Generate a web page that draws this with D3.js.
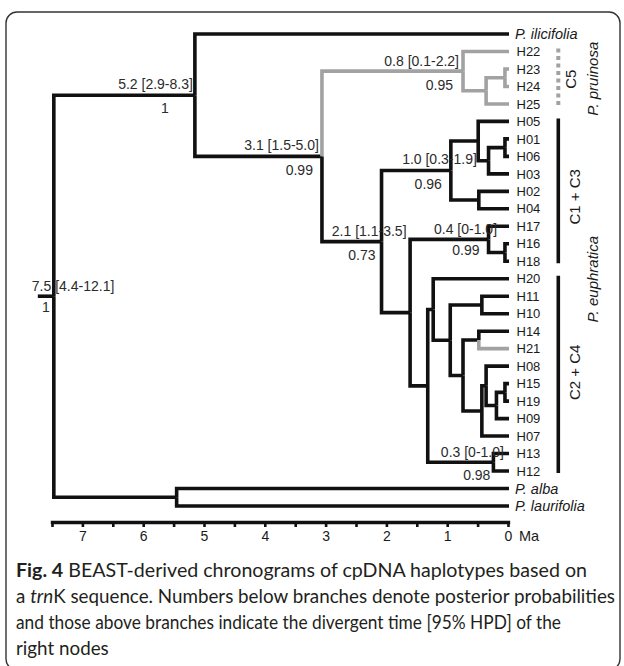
<!DOCTYPE html>
<html>
<head>
<meta charset="utf-8">
<script src="https://cdnjs.cloudflare.com/ajax/libs/d3/7.8.5/d3.min.js"></script>
<style>
  body { margin: 0; background: #fff; }
  svg { display: block; font-family: "Liberation Sans", Arial, sans-serif; }
</style>
</head>
<body>
<div id="chart"></div>
<script>
// tips, top to bottom
var tips = ["P. ilicifolia", "H22", "H23", "H24", "H25", "H05", "H01", "H06", "H03", "H02", "H04",
  "H17", "H16", "H18", "H20", "H11", "H10", "H14", "H21", "H08", "H15", "H19", "H09", "H07",
  "H13", "H12", "P. alba", "P. laurifolia"];
var tipParent = ["A", "C5", "c5c", "c5c", "c5b", "P1", "R1", "R1", "Q1", "P2", "P2",
  "N04", "S", "S", "F", "T", "T", "U", "U", "J", "V", "V", "K", "I",
  "N03", "N03", "AL", "AL"];
var speciesTips = ["P. ilicifolia", "P. alba", "P. laurifolia"];

// internal nodes: id, parent, age (Ma)
var nodeIds     = ["root", "A", "AL", "B", "C5", "c5b", "c5c", "N21", "N10", "P1", "Q1", "R1", "P2",
  "D", "N04", "S", "E", "F", "G", "T", "Hn", "U", "I", "J", "K", "V", "N03"];
var nodeParents = ["", "root", "root", "A", "B", "C5", "c5b", "B", "N21", "N10", "P1", "Q1", "N10",
  "N21", "D", "N04", "D", "E", "F", "G", "G", "Hn", "Hn", "I", "J", "K", "E"];
var nodeAges    = [7.47, 5.15, 5.45, 3.06, 0.74, 0.36, 0.05, 2.08, 0.94, 0.49, 0.32, 0.05, 0.48,
  1.61, 0.32, 0.05, 1.32, 1.23, 0.95, 0.43, 0.74, 0.48, 0.43, 0.36, 0.19, 0.05, 0.24];

// divergence time [95% HPD] and posterior
var labelNodes = ["root", "A", "B", "C5", "N10", "N21", "N04", "N03"];
var timeLabels = ["7.5 [4.4-12.1]", "5.2 [2.9-8.3]", "3.1 [1.5-5.0]", "0.8 [0.1-2.2]",
  "1.0 [0.3-1.9]", "2.1 [1.1-3.5]", "0.4 [0-1.0]", "0.3 [0-1.0]"];
var posteriors = ["1", "1", "0.99", "0.95", "0.96", "0.73", "0.99", "0.98"];

var greyClades = ["C5", "H21"];

var cladeNames = ["C5", "C1 + C3", "C2 + C4"];
var cladeFrom  = ["H22", "H05", "H20"];
var cladeTo    = ["H25", "H18", "H12"];
var speciesGroups = ["P. pruinosa", "P. euphratica"];
var groupFrom = ["H22", "H05"];
var groupTo   = ["H25", "H12"];

var axisTicks = d3.range(0, 7.51, 0.5);

// label placement relative to node (layout only)
var labelPos = {
  root: { tx: -22, ty: -5, ta: "start", px: -8, py: 16, pa: "middle" },
  A:    { tx: -2,  ty: -6, ta: "end", px: -26, py: 18, pa: "end" },
  B:    { tx: -3,  ty: -6.5, ta: "end", px: -9, py: 18.5, pa: "end" },
  C5:   { tx: -4,  ty: -5, ta: "end", px: -10, py: 19, pa: "end" },
  N10:  { tx: 26,  ty: -7, ta: "end", px: -9, py: 18, pa: "end" },
  N21:  { tx: 25,  ty: -6, ta: "end", px: -6, py: 18, pa: "end" },
  N04:  { tx: 8.5, ty: -5.5, ta: "end", px: -9, py: 15.5, pa: "end" },
  N03:  { tx: 10.5, ty: -5.5, ta: "end", px: -3, py: 18, pa: "end" }
};
var cladeTextShift = [2, 6, -2];
var groupTextShift = [1, -17];

var width = 624, height = 666;
var svg = d3.select("#chart").append("svg")
  .attr("width", width)
  .attr("height", height);

svg.append("rect")
  .attr("x", 6).attr("y", 12)
  .attr("width", 614).attr("height", 658)
  .attr("rx", 11)
  .attr("fill", "none")
  .attr("stroke", "#333")
  .attr("stroke-width", 1.4);

var x = d3.scaleLinear().domain([7.5, 0]).range([52, 508]);
var y = d3.scalePoint().domain(tips).range([34, 506]);

var rows = nodeIds.map(function(id, i) {
  return { id: id, parent: nodeParents[i], age: nodeAges[i] };
}).concat(tips.map(function(t, i) {
  return { id: t, parent: tipParent[i], age: 0 };
}));

var root = d3.stratify()
  .id(function(d) { return d.id; })
  .parentId(function(d) { return d.parent; })(rows);

root.eachAfter(function(n) {
  n.px = x(n.data.age);
  if (n.children) {
    var ys = n.children.map(function(c) { return c.py; });
    n.py = (d3.min(ys) + d3.max(ys)) / 2;
  } else {
    n.py = y(n.id);
  }
});

function isGrey(n) {
  return n.ancestors().some(function(a) { return greyClades.indexOf(a.id) >= 0; });
}

var BLACK = "#111", GREY = "#a2a2a2";
var tree = svg.append("g");

// root stub
tree.append("path")
  .attr("d", "M" + (root.px - 16) + "," + root.py + "H" + root.px)
  .attr("stroke", BLACK).attr("stroke-width", 3.6).attr("fill", "none");

tree.selectAll("path.edge")
  .data(root.descendants().filter(function(d) { return d.parent; }))
  .enter().append("path")
  .attr("class", "edge")
  .attr("d", function(d) {
    return "M" + d.parent.px + "," + d.parent.py + "V" + d.py + "H" + (d.children ? d.px : d.px + 1);
  })
  .attr("fill", "none")
  .attr("stroke", function(d) { return isGrey(d) ? GREY : BLACK; })
  .attr("stroke-width", 3.6)
  .attr("stroke-linejoin", "miter")
  .attr("stroke-linecap", "butt");

// tip labels
tree.selectAll("text.tip")
  .data(root.leaves())
  .enter().append("text")
  .attr("class", "tip")
  .attr("x", function(d) { return speciesTips.indexOf(d.id) >= 0 ? 515 : 516.5; })
  .attr("y", function(d) { return d.py; })
  .attr("dy", "0.36em")
  .attr("font-size", function(d) { return speciesTips.indexOf(d.id) >= 0 ? 14.5 : 13; })
  .attr("font-style", function(d) { return speciesTips.indexOf(d.id) >= 0 ? "italic" : "normal"; })
  .attr("fill", "#1a1a1a")
  .text(function(d) { return d.id; });

// node labels
var byId = {};
root.each(function(n) { byId[n.id] = n; });
labelNodes.forEach(function(id, i) {
  var n = byId[id], p = labelPos[id];
  tree.append("text")
    .attr("x", n.px + p.tx).attr("y", n.py + p.ty)
    .attr("text-anchor", p.ta)
    .attr("font-size", 14).attr("fill", "#2b2b2b")
    .text(timeLabels[i]);
  tree.append("text")
    .attr("x", n.px + p.px).attr("y", n.py + p.py)
    .attr("text-anchor", p.pa)
    .attr("font-size", 14).attr("fill", "#2b2b2b")
    .text(posteriors[i]);
});

// clade bars
var barX = 558.3;
cladeNames.forEach(function(name, i) {
  var y0 = y(cladeFrom[i]) - 3, y1 = y(cladeTo[i]) + 2;
  var grey = name === "C5";
  svg.append("line")
    .attr("x1", barX).attr("x2", barX)
    .attr("y1", y0).attr("y2", y1)
    .attr("stroke", grey ? GREY : BLACK)
    .attr("stroke-width", grey ? 4 : 3.6)
    .attr("stroke-dasharray", grey ? "4,3.5" : null);
  var cy = (y0 + y1) / 2 + cladeTextShift[i];
  var tx = grey ? 576 : 580;
  svg.append("text")
    .attr("transform", "translate(" + tx + "," + cy + ") rotate(-90)")
    .attr("text-anchor", "middle")
    .attr("font-size", 15).attr("fill", "#1a1a1a")
    .text(name);
});

// species names for groups
speciesGroups.forEach(function(name, i) {
  var cy = (y(groupFrom[i]) + y(groupTo[i])) / 2 + groupTextShift[i];
  svg.append("text")
    .attr("transform", "translate(598," + cy + ") rotate(-90)")
    .attr("text-anchor", "middle")
    .attr("font-size", 15).attr("font-style", "italic").attr("fill", "#1a1a1a")
    .text(name);
});

// time axis
var axis = d3.axisBottom(x)
  .tickValues(axisTicks)
  .tickSize(5)
  .tickSizeOuter(0)
  .tickPadding(4)
  .tickFormat(function(d) { return Number.isInteger(d) ? d : ""; });

var gAxis = svg.append("g")
  .attr("transform", "translate(0,522)")
  .call(axis);
gAxis.select(".domain").attr("stroke", BLACK).attr("stroke-width", 3.4).attr("stroke-linecap", "square");
gAxis.selectAll(".tick line").attr("stroke", BLACK).attr("stroke-width", 2.6);
gAxis.selectAll(".tick text")
  .attr("font-size", 14).attr("font-family", "Liberation Sans, Arial, sans-serif").attr("fill", "#1a1a1a");
gAxis.append("text")
  .attr("x", x(0) + 11).attr("y", 19)
  .attr("font-size", 14.5).attr("fill", "#1a1a1a")
  .attr("text-anchor", "start")
  .text("Ma");

// caption
var captionLines = [
  [["Fig. 4", "b"], [" BEAST-derived chronograms of cpDNA haplotypes based on", ""]],
  [["a ", ""], ["trn", "i"], ["K sequence. Numbers below branches denote posterior probabilities", ""]],
  [["and those above branches indicate the divergent time [95% HPD] of the", ""]],
  [["right nodes", ""]]
];
var captionWidths = [571, 599, 545];
var cap = svg.append("g")
  .style("font-family", "Lato, 'Open Sans', sans-serif")
  .attr("font-size", 18.5)
  .attr("fill", "#231f20");
var capTexts = captionLines.map(function(parts, i) {
  var t = cap.append("text")
    .attr("x", 16)
    .attr("y", 577 + i * 26);
  parts.forEach(function(p) {
    t.append("tspan")
      .attr("font-weight", p[1] === "b" ? 700 : null)
      .attr("font-style", p[1] === "i" ? "italic" : null)
      .text(p[0]);
  });
  return t;
});
// squeeze lines to the widths in the figure, last line by the same ratio
var ratio = captionWidths[1] / capTexts[1].node().getComputedTextLength();
capTexts.forEach(function(t, i) {
  var w = i < captionWidths.length ? captionWidths[i] : t.node().getComputedTextLength() * ratio;
  t.attr("textLength", w).attr("lengthAdjust", "spacingAndGlyphs");
});
</script>
</body>
</html>
